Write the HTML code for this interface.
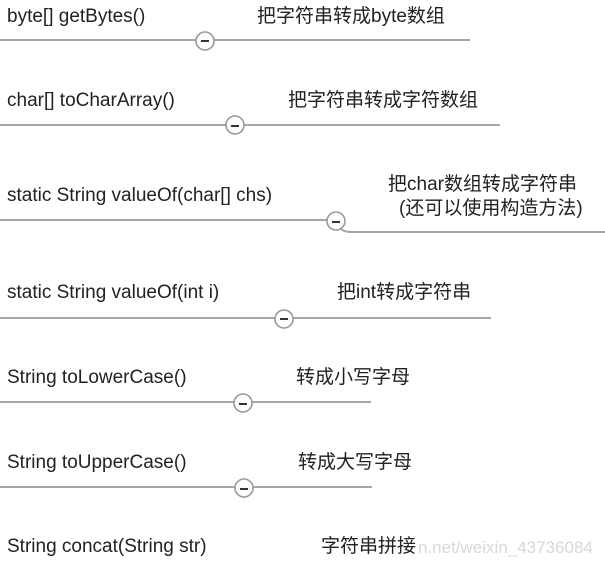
<!DOCTYPE html>
<html><head><meta charset="utf-8"><style>
html,body{margin:0;padding:0;background:#fff;}
body{width:605px;height:562px;position:relative;overflow:hidden;font-family:"Liberation Sans","Noto Sans CJK SC",sans-serif;color:#222;}
.t{position:absolute;font-size:19px;white-space:nowrap;line-height:22px;}
svg{position:absolute;left:0;top:0;}
</style></head><body>
<svg width="605" height="562">
<g stroke="#a6a6a6" stroke-width="2" fill="none">
<line x1="0" y1="40" x2="470" y2="40"/>
<line x1="0" y1="125" x2="500" y2="125"/>
<line x1="0" y1="220" x2="328" y2="220"/>
<path d="M340 228 Q343 232 352 232 L605 232"/>
<line x1="0" y1="318" x2="491" y2="318"/>
<line x1="0" y1="402" x2="371" y2="402"/>
<line x1="0" y1="487" x2="372" y2="487"/>
</g>
<g stroke="#9a9a9a" stroke-width="1.6" fill="#fff">
<circle cx="205" cy="41" r="9"/>
<circle cx="235" cy="125" r="9"/>
<circle cx="336" cy="221" r="9"/>
<circle cx="284" cy="319" r="9"/>
<circle cx="243" cy="403" r="9"/>
<circle cx="244" cy="488" r="9"/>
</g>
<g stroke="#333" stroke-width="2">
<line x1="201" y1="41" x2="209" y2="41"/>
<line x1="231" y1="126" x2="239" y2="126"/>
<line x1="332" y1="222" x2="340" y2="222"/>
<line x1="280" y1="319" x2="288" y2="319"/>
<line x1="239" y1="404" x2="247" y2="404"/>
<line x1="240" y1="489" x2="248" y2="489"/>
</g>
</svg>
<div class="t" style="left:7px;top:6px">byte[] getBytes()</div>
<div class="t" style="left:257px;top:6px">把字符串转成byte数组</div>
<div class="t" style="left:7px;top:90px">char[] toCharArray()</div>
<div class="t" style="left:288px;top:90px">把字符串转成字符数组</div>
<div class="t" style="left:7px;top:185px">static String valueOf(char[] chs)</div>
<div class="t" style="left:388px;top:174px">把char数组转成字符串</div>
<div class="t" style="left:399px;top:198px">(还可以使用构造方法)</div>
<div class="t" style="left:7px;top:282px">static String valueOf(int i)</div>
<div class="t" style="left:337px;top:282px">把int转成字符串</div>
<div class="t" style="left:7px;top:367px">String toLowerCase()</div>
<div class="t" style="left:296px;top:367px">转成小写字母</div>
<div class="t" style="left:7px;top:452px">String toUpperCase()</div>
<div class="t" style="left:298px;top:452px">转成大写字母</div>
<div class="t" style="left:7px;top:536px">String concat(String str)</div>
<div class="t" style="left:321px;top:536px">字符串拼接</div>
<div class="t" style="left:418px;top:537px;color:#d8d8d8;font-size:17px">n.net/weixin_43736084</div>
</body></html>
